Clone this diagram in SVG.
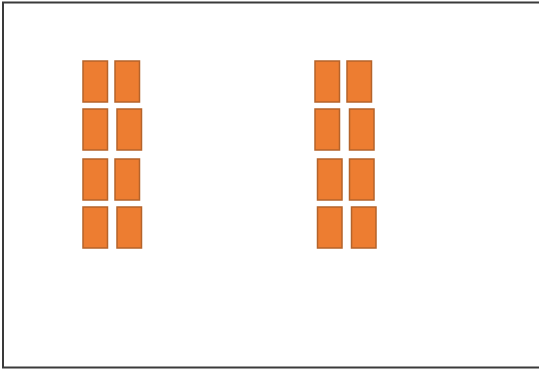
<svg xmlns="http://www.w3.org/2000/svg" width="539" height="374" viewBox="0 0 539 374">
<style>
.frame{fill:#ffffff;stroke:#3a3a3a;stroke-width:2}
.b{fill:#ED7D31;stroke:#B5632A;stroke-width:1.5}
</style>
<rect class="frame" x="3" y="2.5" width="545" height="365"/>
<g id="left-stack">
<rect class="b" x="83" y="61" width="24.5" height="41"/>
<rect class="b" x="115" y="61" width="24.5" height="41"/>
<rect class="b" x="83" y="109" width="24.5" height="41"/>
<rect class="b" x="117" y="109" width="24.5" height="41"/>
<rect class="b" x="83" y="159" width="24.5" height="41"/>
<rect class="b" x="115" y="159" width="24.5" height="41"/>
<rect class="b" x="83" y="207" width="24.5" height="41"/>
<rect class="b" x="117" y="207" width="24.5" height="41"/>
</g>
<g id="right-stack">
<rect class="b" x="315" y="61" width="24.5" height="41"/>
<rect class="b" x="347" y="61" width="24.5" height="41"/>
<rect class="b" x="315" y="109" width="24.5" height="41"/>
<rect class="b" x="349.5" y="109" width="24.5" height="41"/>
<rect class="b" x="317.5" y="159" width="24.5" height="41"/>
<rect class="b" x="349.5" y="159" width="24.5" height="41"/>
<rect class="b" x="317.5" y="207" width="24.5" height="41"/>
<rect class="b" x="351.5" y="207" width="24.5" height="41"/>
</g>
<g id="connectors"/>
</svg>
